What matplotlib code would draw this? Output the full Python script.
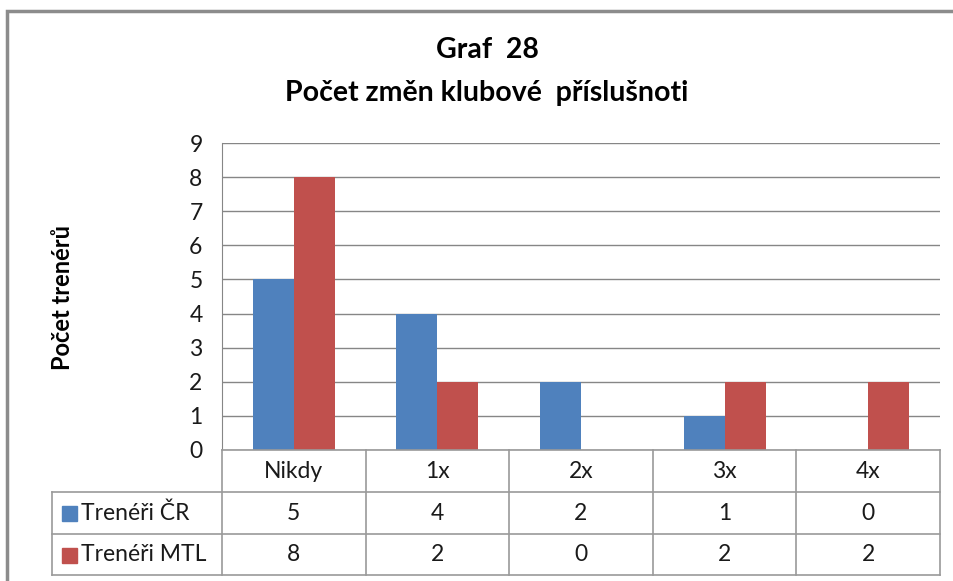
import numpy as np
import matplotlib.pyplot as plt

plt.rcParams['font.family'] = ['Lato', 'DejaVu Sans']

# data
categories = ['Nikdy', '1x', '2x', '3x', '4x']
series_names = ['Trenéři ČR', 'Trenéři MTL']
cr_values = [5, 4, 2, 1, 0]
mtl_values = [8, 2, 0, 2, 2]
colors = ['#4F81BD', '#C0504D']
ylabel = 'Počet trenérů'

W, H = 954, 581
fig = plt.figure(figsize=(W / 100, H / 100), dpi=100)

# pixel helpers
def fx(px):
    return px / W

def fy(py):
    return 1 - py / H

# plot area in pixels
left, right, top, bottom = 222, 940, 143, 450
ax = fig.add_axes([fx(left), fy(bottom), fx(right - left), (bottom - top) / H])

n = len(categories)
x = np.arange(n) + 0.5
bw = 0.285
ax.bar(x - bw / 2, cr_values, bw, color=colors[0], zorder=3)
ax.bar(x + bw / 2, mtl_values, bw, color=colors[1], zorder=3)
ax.set_xlim(0, n)
ax.set_ylim(0, 9)
ax.set_yticks(range(0, 10))
ax.yaxis.grid(True, color='#868686', linewidth=1)
ax.set_axisbelow(True)
ax.set_xticks([])
for s in ['top', 'right', 'bottom']:
    ax.spines[s].set_visible(False)
ax.spines['left'].set_color('#868686')
ax.tick_params(axis='y', length=0, labelsize=16.5, pad=14, labelcolor='#1a1a1a')

# overlay for table, frame and text
ov = fig.add_axes([0, 0, 1, 1], facecolor='none')
ov.set_xlim(0, W)
ov.set_ylim(H, 0)
ov.axis('off')

# outer frame
ov.plot([7, 7, W + 5], [H + 5, 11, 11], color='#8c8c8c', linewidth=2.5, solid_joinstyle='miter')

# title and y label
ov.text(487, 50, 'Graf  28', ha='center', va='center', fontsize=20.5, fontweight='bold')
ov.text(487, 93, 'Počet změn klubové  příslušnoti', ha='center', va='center', fontsize=20.5, fontweight='bold')
ov.text(63, 298, ylabel, rotation=90, ha='center', va='center', fontsize=17, fontweight='bold')

# data table
col_edges = np.linspace(left, right, n + 1)
row_edges = [450, 492, 534, 575]
tab_left = 52
gc = '#9a9a9a'
ov.plot([left, right], [row_edges[0], row_edges[0]], color=gc, lw=1.2)
for yy in row_edges[1:]:
    ov.plot([tab_left, right], [yy, yy], color=gc, lw=1.2)
for xx in col_edges:
    ov.plot([xx, xx], [row_edges[0], row_edges[-1]], color=gc, lw=1.2)
ov.plot([tab_left, tab_left], [row_edges[1], row_edges[-1]], color=gc, lw=1.2)

fs = 16.5
for i, c in enumerate(categories):
    cx = (col_edges[i] + col_edges[i + 1]) / 2
    ov.text(cx, (row_edges[0] + row_edges[1]) / 2, c, ha='center', va='center', fontsize=fs, color='#1a1a1a')
for r, (name, vals) in enumerate(zip(series_names, [cr_values, mtl_values])):
    cy = (row_edges[r + 1] + row_edges[r + 2]) / 2
    ov.add_patch(plt.Rectangle((62, cy - 7), 15, 15, color=colors[r]))
    ov.text(81, cy, name, ha='left', va='center', fontsize=fs, color='#1a1a1a')
    for i, v in enumerate(vals):
        cx = (col_edges[i] + col_edges[i + 1]) / 2
        ov.text(cx, cy, str(v), ha='center', va='center', fontsize=fs, color='#1a1a1a')

fig.savefig('out.png', dpi=100)
